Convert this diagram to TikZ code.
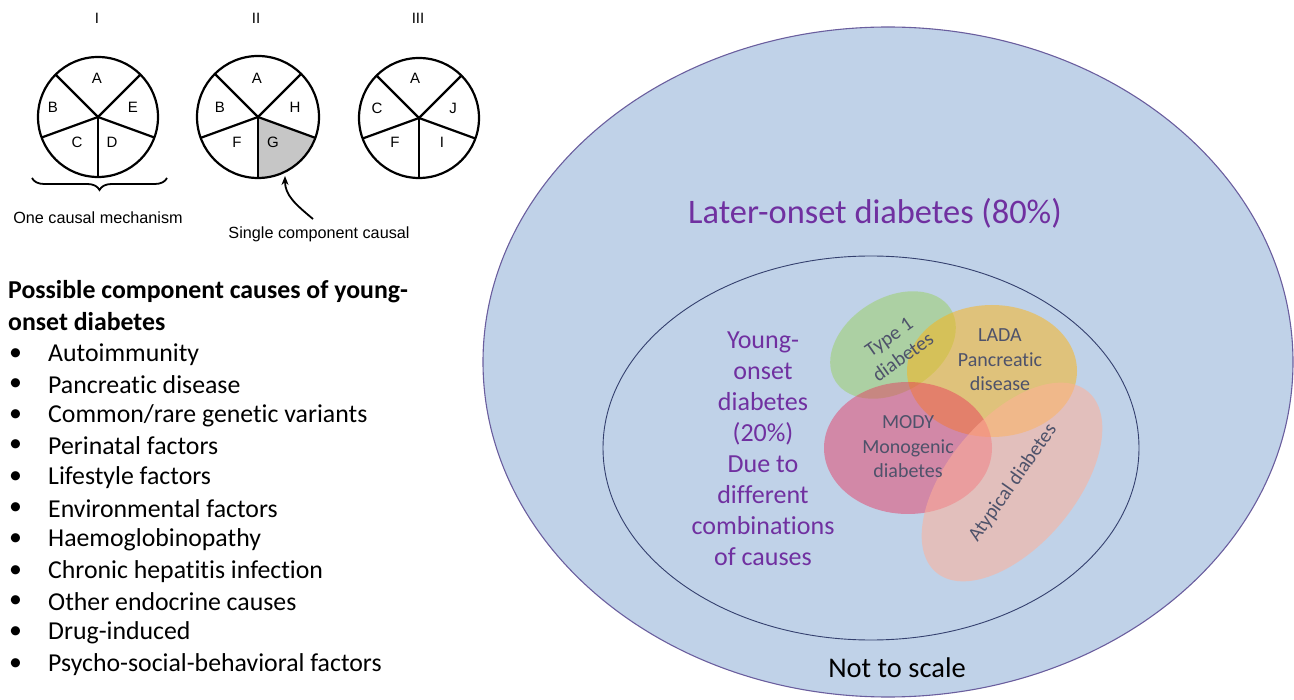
\documentclass[tikz,border=0pt]{standalone}
\usepackage{fontspec}
\setmainfont{Carlito}[Ligatures={NoCommon}]
\newfontfamily\arialf{Liberation Sans}
\usetikzlibrary{arrows.meta,decorations.pathreplacing}
\definecolor{bgblue}{HTML}{C0D2E8}
\definecolor{outerline}{HTML}{6A5E9E}
\definecolor{innerline}{HTML}{34406E}
\definecolor{purp}{HTML}{7030A0}
\definecolor{vtext}{HTML}{4E526A}
\definecolor{vgreen}{HTML}{9AD060}
\definecolor{vyellow}{HTML}{FFB410}
\definecolor{vred}{HTML}{E83058}
\definecolor{vpink}{HTML}{FFB098}
\tikzset{
  pie/.style={line width=2.2pt},
  pielab/.style={font=\arialf\fontsize{15}{17}\selectfont},
  roman/.style={font=\arialf\fontsize{15}{17}\selectfont},
  capt/.style={font=\arialf\fontsize{16.2}{19}\selectfont},
  blt/.style={anchor=west, inner sep=0pt, font=\fontsize{25.8}{31}\selectfont},
  ttl/.style={anchor=west, inner sep=0pt, font=\bfseries\fontsize{25.8}{31}\selectfont},
  vlab/.style={text=vtext, align=center, font=\fontsize{20}{24.5}\selectfont},
}
\begin{document}
\begin{tikzpicture}[x=1pt,y=-1pt]
\useasboundingbox (0,0) rectangle (1294,700);
% ---------- pies ----------
\foreach \cx/\nm in {97/I,256/II,418/III}{
  \node[roman] (r\nm) at (\cx,18) {\nm};
}
% pie I
\begin{scope}[shift={(98,117)}, yscale=-1]
  \draw[pie] (0,0) circle [radius=60pt];
  \foreach \a in {45,135,200,270,340} \draw[pie] (0,0) -- (\a:60);
\end{scope}
\node[pielab] (pIA) at (97,78) {A};
\node[pielab] (pIB) at (53,107) {B};
\node[pielab] (pIE) at (133,107) {E};
\node[pielab] (pIC) at (77,142) {C};
\node[pielab] (pID) at (112,142) {D};
% pie II
\begin{scope}[shift={(258,117)}, yscale=-1]
  \fill[gray!45] (0,0) -- (270:61) arc[start angle=270, end angle=340, radius=61] -- cycle;
  \draw[pie] (0,0) circle [radius=61pt];
  \foreach \a in {45,135,200,270,340} \draw[pie] (0,0) -- (\a:61);
\end{scope}
\node[pielab] (pIIA) at (257,78) {A};
\node[pielab] (pIIB) at (220,107) {B};
\node[pielab] (pIIH) at (295,107) {H};
\node[pielab] (pIIF) at (237,142) {F};
\node[pielab] (pIIG) at (273,142) {G};
% pie III
\begin{scope}[shift={(419,118)}, yscale=-1]
  \draw[pie] (0,0) circle [radius=60pt];
  \foreach \a in {45,135,200,270,340} \draw[pie] (0,0) -- (\a:60);
\end{scope}
\node[pielab] (pIIIA) at (415,78) {A};
\node[pielab] (pIIIC) at (377,108) {C};
\node[pielab] (pIIIJ) at (453,108) {J};
\node[pielab] (pIIIF) at (395,142) {F};
\node[pielab] (pIIII) at (442,142) {I};
% brace and captions
\draw[line width=1.8pt, decorate, decoration={brace, mirror, amplitude=12pt}] (32,178) -- (167,178);
\node[capt] (c1) at (98,218) {One causal mechanism};
\node[capt] (c2) at (319,234) {Single component causal};
\coordinate (gtip) at (285,176);
\coordinate (gtail) at (313,219);
\draw[line width=1.8pt, -{Stealth[length=9pt,width=7pt]}] (gtail) .. controls (295,204) and (285,195) .. (gtip);
% ---------- list ----------
\node[ttl] (t1) at (8,292) {Possible component causes of young-};
\node[ttl] (t2) at (8,322) {onset diabetes};
\foreach \y/\txt [count=\i] in {355/{Autoimmunity},385/{Pancreatic disease},416/{Common/rare genetic variants},446/{Perinatal factors},478/{Lifestyle factors},509/{Environmental factors},540/{Haemoglobinopathy},572/{Chronic hepatitis infection},602/{Other endocrine causes},633/{Drug-induced},665/{Psycho-social-behavioral factors}}{
  \node[blt] (d\i) at (9,\y) {•};
  \node[blt] (b\i) at (48,\y) {\txt};
}
% ---------- ellipses ----------
\draw[fill=bgblue, draw=outerline, line width=1.1pt] (888,362) ellipse [x radius=405pt, y radius=335pt];
\node[text=purp, font=\fontsize{34.4}{40}\selectfont] (later) at (875,213) {Later-onset diabetes (80\%)};
\draw[draw=innerline, line width=0.9pt] (871,448) ellipse [x radius=268pt, y radius=192pt];
\node[text=purp, align=center, font=\fontsize{26}{31}\selectfont] (young) at (763,449) {Young-\\onset\\diabetes\\(20\%)\\Due to\\different\\combinations\\of causes};
\fill[vgreen, fill opacity=0.5] (893,345) ellipse [x radius=68pt, y radius=47pt, rotate=32];
\fill[vyellow, fill opacity=0.5] (992,371) ellipse [x radius=85pt, y radius=66pt];
\fill[vred, fill opacity=0.45] (908,448) ellipse [x radius=84pt, y radius=66pt];
\fill[vpink, fill opacity=0.55] (1012,482) ellipse [x radius=118pt, y radius=64pt, rotate=50];
\node[vlab, rotate=35, inner sep=0pt] (t1d) at (896,347) {Type 1\\diabetes};
\node[vlab] (lada) at (1000,360) {LADA\\Pancreatic\\disease};
\node[vlab] (mody) at (908,447) {MODY\\Monogenic\\diabetes};
\node[vlab, rotate=55, inner sep=0pt] (atyp) at (1013,483) {Atypical diabetes};
\node[font=\fontsize{28.5}{34}\selectfont] (nts) at (897,668) {Not to scale};
\end{tikzpicture}
\end{document}
